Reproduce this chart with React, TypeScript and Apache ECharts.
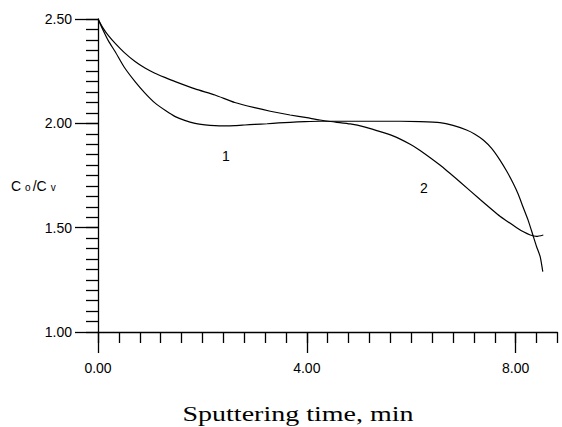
import React, { useEffect, useRef } from "react";
import * as echarts from "echarts";

// Tick label values
const xTickLabels = [0, 4, 8];
const yTickLabels = [1.0, 1.5, 2.0, 2.5];

// Curve 1 (fast initial drop, plateau ~2.0, steep final drop)
const time1 = [0, 0.1, 0.2, 0.33, 0.5, 0.71, 0.9, 1.09, 1.3, 1.48, 1.66, 1.86, 2.05, 2.24, 2.43, 2.62, 2.81, 3.0, 3.24, 3.46, 3.68, 3.96, 4.25, 4.6, 5.0, 5.4, 5.79, 6.17, 6.55, 6.8, 7.06, 7.22, 7.38, 7.54, 7.7, 7.83, 7.95, 8.05, 8.14, 8.24, 8.33, 8.4, 8.47, 8.52];
const ratio1 = [2.5, 2.445, 2.395, 2.343, 2.27, 2.2, 2.145, 2.098, 2.06, 2.032, 2.014, 2.0, 1.993, 1.989, 1.988, 1.989, 1.992, 1.995, 1.998, 2.002, 2.005, 2.008, 2.01, 2.01, 2.01, 2.01, 2.01, 2.008, 2.003, 1.99, 1.968, 1.948, 1.92, 1.88, 1.824, 1.77, 1.714, 1.66, 1.6, 1.535, 1.465, 1.41, 1.361, 1.289];

// Curve 2 (gradual decline)
const time2 = [0, 0.1, 0.2, 0.33, 0.5, 0.71, 0.9, 1.09, 1.3, 1.48, 1.86, 2.24, 2.62, 3.0, 3.3, 3.68, 4.0, 4.25, 4.55, 4.83, 5.1, 5.34, 5.65, 5.98, 6.17, 6.55, 6.93, 7.32, 7.7, 8.02, 8.15, 8.28, 8.4, 8.53];
const ratio2 = [2.5, 2.455, 2.42, 2.383, 2.34, 2.296, 2.265, 2.24, 2.218, 2.2, 2.165, 2.136, 2.1, 2.075, 2.058, 2.04, 2.027, 2.016, 2.006, 1.997, 1.983, 1.965, 1.94, 1.9, 1.87, 1.8, 1.72, 1.635, 1.555, 1.5, 1.48, 1.465, 1.458, 1.465];

const curveLabels = ["1", "2"];

export default function App() {
  const ref = useRef<HTMLDivElement>(null);

  useEffect(() => {
    const chart = echarts.init(ref.current!, null, { renderer: "svg" });
    const sans = "'Liberation Sans', Arial, sans-serif";
    const serif = "'Liberation Serif', 'Times New Roman', serif";
    const ink = { color: "#000", width: 1.3 };

    chart.setOption({
      animation: false,
      backgroundColor: "#ffffff",
      grid: { left: 98, top: 19, right: 4.6, bottom: 95, containLabel: false },
      xAxis: [
        {
          type: "value",
          min: 0,
          max: 8.8,
          interval: 0.4,
          position: "bottom",
          axisLine: { show: true, onZero: false, lineStyle: ink },
          axisTick: { show: true, length: 11, lineStyle: ink },
          axisLabel: {
            customValues: xTickLabels,
            formatter: (v: number) => v.toFixed(2),
            margin: 29,
            color: "#000",
            fontSize: 14,
            fontFamily: sans,
          },
          splitLine: { show: false },
        },
        {
          type: "value",
          min: 0,
          max: 8.8,
          position: "bottom",
          axisLine: { show: false, onZero: false },
          axisTick: { show: true, customValues: xTickLabels, length: 21, lineStyle: ink },
          axisLabel: { show: false },
          splitLine: { show: false },
        },
      ],
      yAxis: [
        {
          type: "value",
          min: 1,
          max: 2.5,
          interval: 0.05,
          position: "left",
          axisLine: { show: true, onZero: false, lineStyle: ink },
          axisTick: { show: true, length: 12, lineStyle: ink },
          axisLabel: {
            customValues: yTickLabels,
            formatter: (v: number) => v.toFixed(2),
            margin: 26,
            color: "#000",
            fontSize: 14,
            fontFamily: sans,
          },
          splitLine: { show: false },
        },
        {
          type: "value",
          min: 1,
          max: 2.5,
          position: "left",
          axisLine: { show: false, onZero: false },
          axisTick: { show: true, customValues: yTickLabels, length: 23, lineStyle: ink },
          axisLabel: { show: false },
          splitLine: { show: false },
        },
      ],
      series: [
        {
          type: "line",
          xAxisIndex: 0,
          yAxisIndex: 0,
          data: time1.map((t, i) => [t, ratio1[i]]),
          showSymbol: false,
          symbol: "none",
          smooth: 0.2,
          lineStyle: { color: "#000", width: 1.2 },
        },
        {
          type: "line",
          xAxisIndex: 0,
          yAxisIndex: 0,
          data: time2.map((t, i) => [t, ratio2[i]]),
          showSymbol: false,
          symbol: "none",
          smooth: 0.2,
          lineStyle: { color: "#000", width: 1.2 },
        },
      ],
      graphic: [
        {
          type: "text",
          x: 11,
          y: 185,
          style: {
            text: "{a|C}{b|o}{a|/C}{b|v}",
            textVerticalAlign: "middle",
            rich: {
              a: { fontSize: 14, fontFamily: sans, fill: "#000", verticalAlign: "bottom", lineHeight: 15 },
              b: { fontSize: 10, fontFamily: sans, fill: "#000", verticalAlign: "bottom", lineHeight: 15, padding: [0, 2, 0, 4] },
            },
          },
        },
        {
          type: "text",
          x: 226,
          y: 156,
          style: { text: curveLabels[0], fontSize: 14, fontFamily: sans, fill: "#000", textAlign: "center", textVerticalAlign: "middle" },
        },
        {
          type: "text",
          x: 424,
          y: 188,
          style: { text: curveLabels[1], fontSize: 14, fontFamily: sans, fill: "#000", textAlign: "center", textVerticalAlign: "middle" },
        },
        {
          type: "text",
          x: 298,
          y: 414.5,
          scaleX: 1.4,
          originX: 0,
          style: { text: "Sputtering time, min", fontSize: 20, fontFamily: serif, fill: "#000", textAlign: "center", textVerticalAlign: "middle" },
        },
      ],
    });

    return () => chart.dispose();
  }, []);

  return (
    <div
      ref={ref}
      style={{ position: "fixed", left: 0, top: 0, width: 562, height: 427, background: "#fff" }}
    />
  );
}
